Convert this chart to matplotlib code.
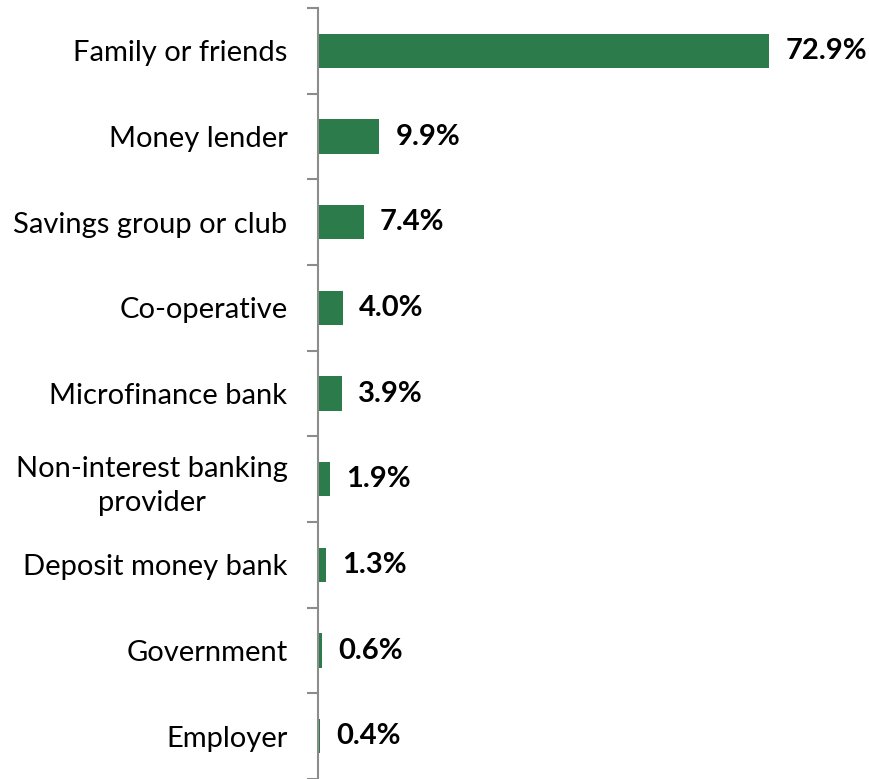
import matplotlib.pyplot as plt
import numpy as np

plt.rcParams['font.family'] = ['Lato', 'DejaVu Sans']

sources = ['Family or friends', 'Money lender', 'Savings group or club', 'Co-operative',
           'Microfinance bank', 'Non-interest banking\nprovider', 'Deposit money bank',
           'Government', 'Employer']
shares = [72.9, 9.9, 7.4, 4.0, 3.9, 1.9, 1.3, 0.6, 0.4]

green = '#2B7B4B'
axis_grey = '#8C8C8C'

fig = plt.figure(figsize=(8.7, 7.79), dpi=100)
ax = fig.add_axes([0.3655, 0.0, 0.6345, 0.9897])

y = np.arange(len(sources))
ax.barh(y, shares, height=0.4, color=green)
ax.set_ylim(len(sources) - 0.5, -0.5)
ax.set_xlim(0, 89.2)

for yi, v in zip(y, shares):
    ax.text(v + 2.6, yi, f'{v:.1f}%', va='center', ha='left',
            fontsize=21, fontweight='bold', color='black')

ax.set_yticks(y)
ax.set_yticklabels(sources, fontsize=21, linespacing=1.4)
ax.tick_params(axis='y', which='major', length=0, pad=22)
ax.set_yticks(np.arange(-0.5, len(sources), 1), minor=True)
ax.tick_params(axis='y', which='minor', length=8, width=1.5, color=axis_grey)
for lbl in ax.get_yticklabels():
    lbl.set_horizontalalignment('right')
    lbl.set_multialignment('center')

ax.set_xticks([])
for side in ('top', 'right', 'bottom'):
    ax.spines[side].set_visible(False)
ax.spines['left'].set_color(axis_grey)
ax.spines['left'].set_linewidth(1.5)

fig.savefig('out.png', dpi=100)
